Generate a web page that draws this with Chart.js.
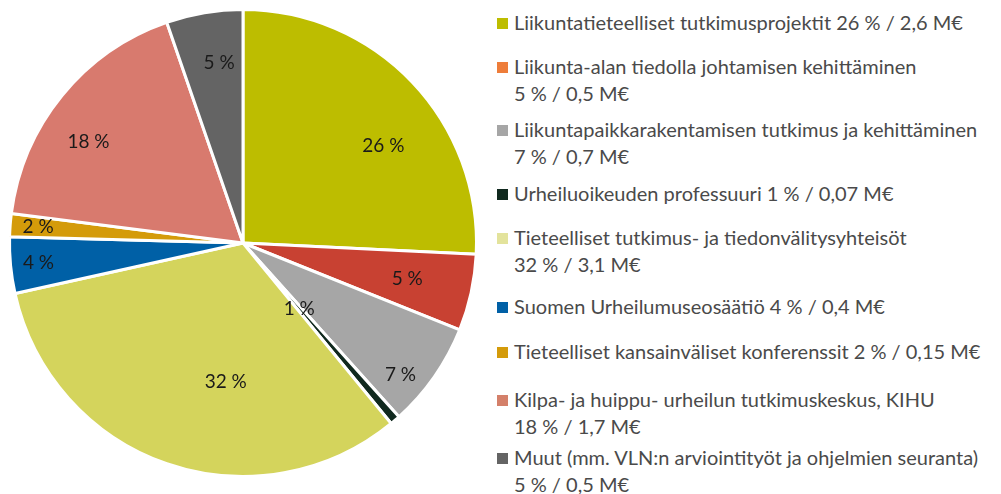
<!DOCTYPE html>
<html lang="fi">
<head>
  <meta charset="UTF-8">
  <title>Rahoituksen jakauma</title>
  <script src="https://cdn.jsdelivr.net/npm/chart.js"></script>
  <style>
    body { margin:0; background:#fff; width:1001px; height:494px; overflow:hidden; position:relative; font-family:'Lato',sans-serif; }
    #pieBox { position:absolute; left:0; top:0; width:486px; height:486px; }
    #legend { position:absolute; left:496px; top:0; width:505px; height:494px; }
    .item { position:absolute; left:0; color:#4a4a4a; font-size:20px; line-height:27px; white-space:nowrap; }
    .item .sq { position:absolute; left:1px; top:9px; width:11px; height:11px; }
    .item .txt { padding-left:18px; }
  </style>
</head>
<body>
<div id="pieBox"><canvas id="pie"></canvas></div>
<div id="legend"></div>

<script>
// slice data, clockwise from 12 o'clock
const categories = [
  'Liikuntatieteelliset tutkimusprojektit',
  'Liikunta-alan tiedolla johtamisen kehittäminen',
  'Liikuntapaikkarakentamisen tutkimus ja kehittäminen',
  'Urheiluoikeuden professuuri',
  'Tieteelliset tutkimus- ja tiedonvälitysyhteisöt',
  'Suomen Urheilumuseosäätiö',
  'Tieteelliset kansainväliset konferenssit',
  'Kilpa- ja huippu- urheilun tutkimuskeskus, KIHU',
  'Muut (mm. VLN:n arviointityöt ja ohjelmien seuranta)'
];
const shares = [25.8, 5.3, 7.3, 0.7, 32.5, 3.9, 1.6, 17.7, 5.3];
const pctLabels = ['26 %', '5 %', '7 %', '1 %', '32 %', '4 %', '2 %', '18 %', '5 %'];
const euroLabels = ['2,6 M€', '0,5 M€', '0,7 M€', '0,07 M€', '3,1 M€', '0,4 M€', '0,15 M€', '1,7 M€', '0,5 M€'];
const sliceColors = ['#bdbd00', '#c84132', '#a6a6a6', '#10291e', '#d4d45c', '#0060a6', '#d49b0a', '#d87a6e', '#646464'];
const legendColors = ['#bdbd00', '#ee7d3a', '#a6a6a6', '#10291e', '#e3e39c', '#0060a6', '#d49b0a', '#d4806a', '#646464'];

// label placement (fraction of radius, angle nudge in degrees)
const labelRadius = [0.73, 0.72, 0.88, 0.37, 0.6, 0.88, 0.88, 0.79, 0.78];
const labelNudge = [9, 0, 5, 0, -12, 0, 0, -6, 2];
// legend layout
const legendTops = [9, 53, 116, 180, 224, 293, 338, 386, 444];
const legendWrap = [false, true, true, false, true, false, false, true, true];

const legend = document.getElementById('legend');
categories.forEach((c, i) => {
  const d = document.createElement('div');
  d.className = 'item';
  d.style.top = legendTops[i] + 'px';
  const tail = pctLabels[i] + ' / ' + euroLabels[i];
  d.innerHTML = `<span class="sq" style="background:${legendColors[i]}"></span><div class="txt">${c}${legendWrap[i] ? '<br>' : ' '}${tail}</div>`;
  legend.appendChild(d);
});

const sliceText = {
  id: 'sliceText',
  afterDatasetsDraw(chart) {
    const ctx = chart.ctx;
    ctx.save();
    ctx.font = '19px Lato, sans-serif';
    ctx.fillStyle = '#1a1a1a';
    ctx.textAlign = 'center';
    ctx.textBaseline = 'middle';
    chart.getDatasetMeta(0).data.forEach((arc, i) => {
      const a = (arc.startAngle + arc.endAngle) / 2 + labelNudge[i] * Math.PI / 180;
      const r = arc.outerRadius * labelRadius[i];
      ctx.fillText(pctLabels[i], arc.x + Math.cos(a) * r, arc.y + Math.sin(a) * r);
    });
    ctx.restore();
  }
};

new Chart(document.getElementById('pie'), {
  type: 'pie',
  data: {
    labels: categories,
    datasets: [{ data: shares, backgroundColor: sliceColors, borderColor: '#fff', borderWidth: 3 }]
  },
  options: {
    responsive: true,
    maintainAspectRatio: false,
    animation: false,
    layout: { padding: 8 },
    plugins: { legend: { display: false }, tooltip: { enabled: false } }
  },
  plugins: [sliceText]
});
</script>
</body>
</html>
